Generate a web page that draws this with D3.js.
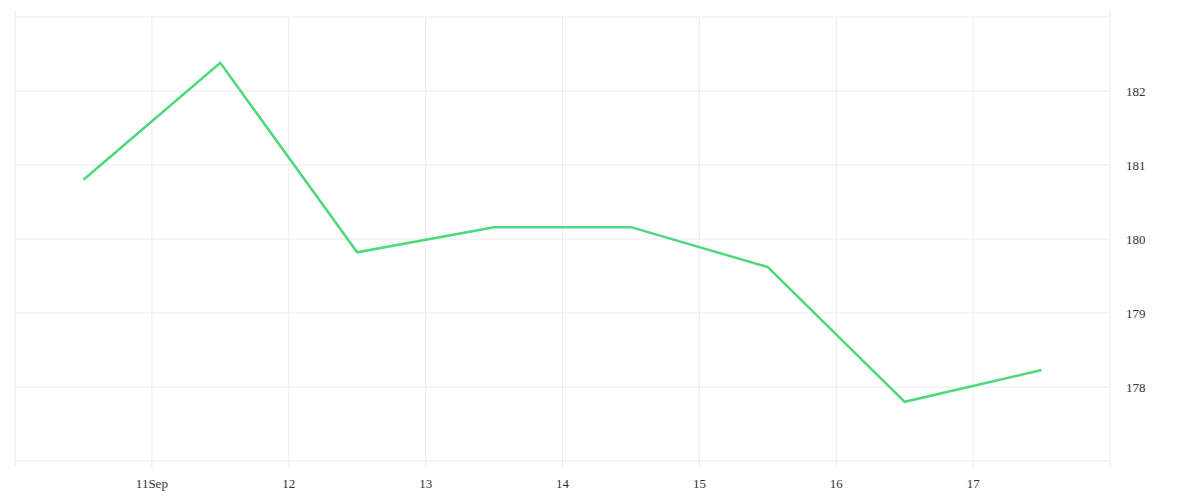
<!DOCTYPE html>
<html><head><meta charset="utf-8">
<script src="https://cdn.jsdelivr.net/npm/d3@7"></script>
<style>body{margin:0;background:#fff}text{font-family:"Liberation Serif",serif;font-size:13px;fill:#333}</style>
</head><body><svg id="c" width="1200" height="500"></svg>
<script>
const dates = ["2023-09-10T12:00","2023-09-11T12:00","2023-09-12T12:00","2023-09-13T12:00","2023-09-14T12:00","2023-09-15T12:00","2023-09-16T12:00","2023-09-17T12:00"];
const values = [180.8,182.38,179.82,180.16,180.16,179.62,177.8,178.23];
const xTicks = ["2023-09-11","2023-09-12","2023-09-13","2023-09-14","2023-09-15","2023-09-16","2023-09-17"];
const xTickLabels = ["11Sep","12","13","14","15","16","17"];
const yTicks = [178,179,180,181,182];

const svg = d3.select("#c");
const L=15,R=1110,T=17,B=461;
const x = d3.scaleTime().domain([new Date("2023-09-10T00:00"),new Date("2023-09-18T00:00")]).range([L,R]);
const y = d3.scaleLinear().domain([177,183]).range([B,T]);
const g = svg.append("g");
// horizontal grid
g.selectAll(".h").data([...yTicks,183,177]).join("line").attr("x1",L).attr("x2",R)
 .attr("y1",d=>y(d)).attr("y2",d=>y(d)).attr("stroke","#ececec");
// vertical grid
g.selectAll(".v").data(xTicks).join("line").attr("x1",d=>x(new Date(d+"T00:00"))).attr("x2",d=>x(new Date(d+"T00:00")))
 .attr("y1",T).attr("y2",B+8).attr("stroke","#ececec");
[L,R].forEach(v=>g.append("line").attr("x1",v).attr("x2",v).attr("y1",10).attr("y2",B+5).attr("stroke","#ececec"));
g.selectAll(".xl").data(xTicks).join("text").attr("x",d=>x(new Date(d+"T00:00"))).attr("y",488)
 .attr("text-anchor","middle").text((d,i)=>xTickLabels[i]);
g.selectAll(".yl").data(yTicks).join("text").attr("x",1126).attr("y",d=>y(d)+5).text(d=>d);
const line = d3.line().x((d,i)=>x(new Date(dates[i]))).y(d=>y(d));
svg.append("path").datum(values).attr("d",line).attr("fill","none").attr("stroke","#4cd97b").attr("stroke-width",2.5);
</script></body></html>
